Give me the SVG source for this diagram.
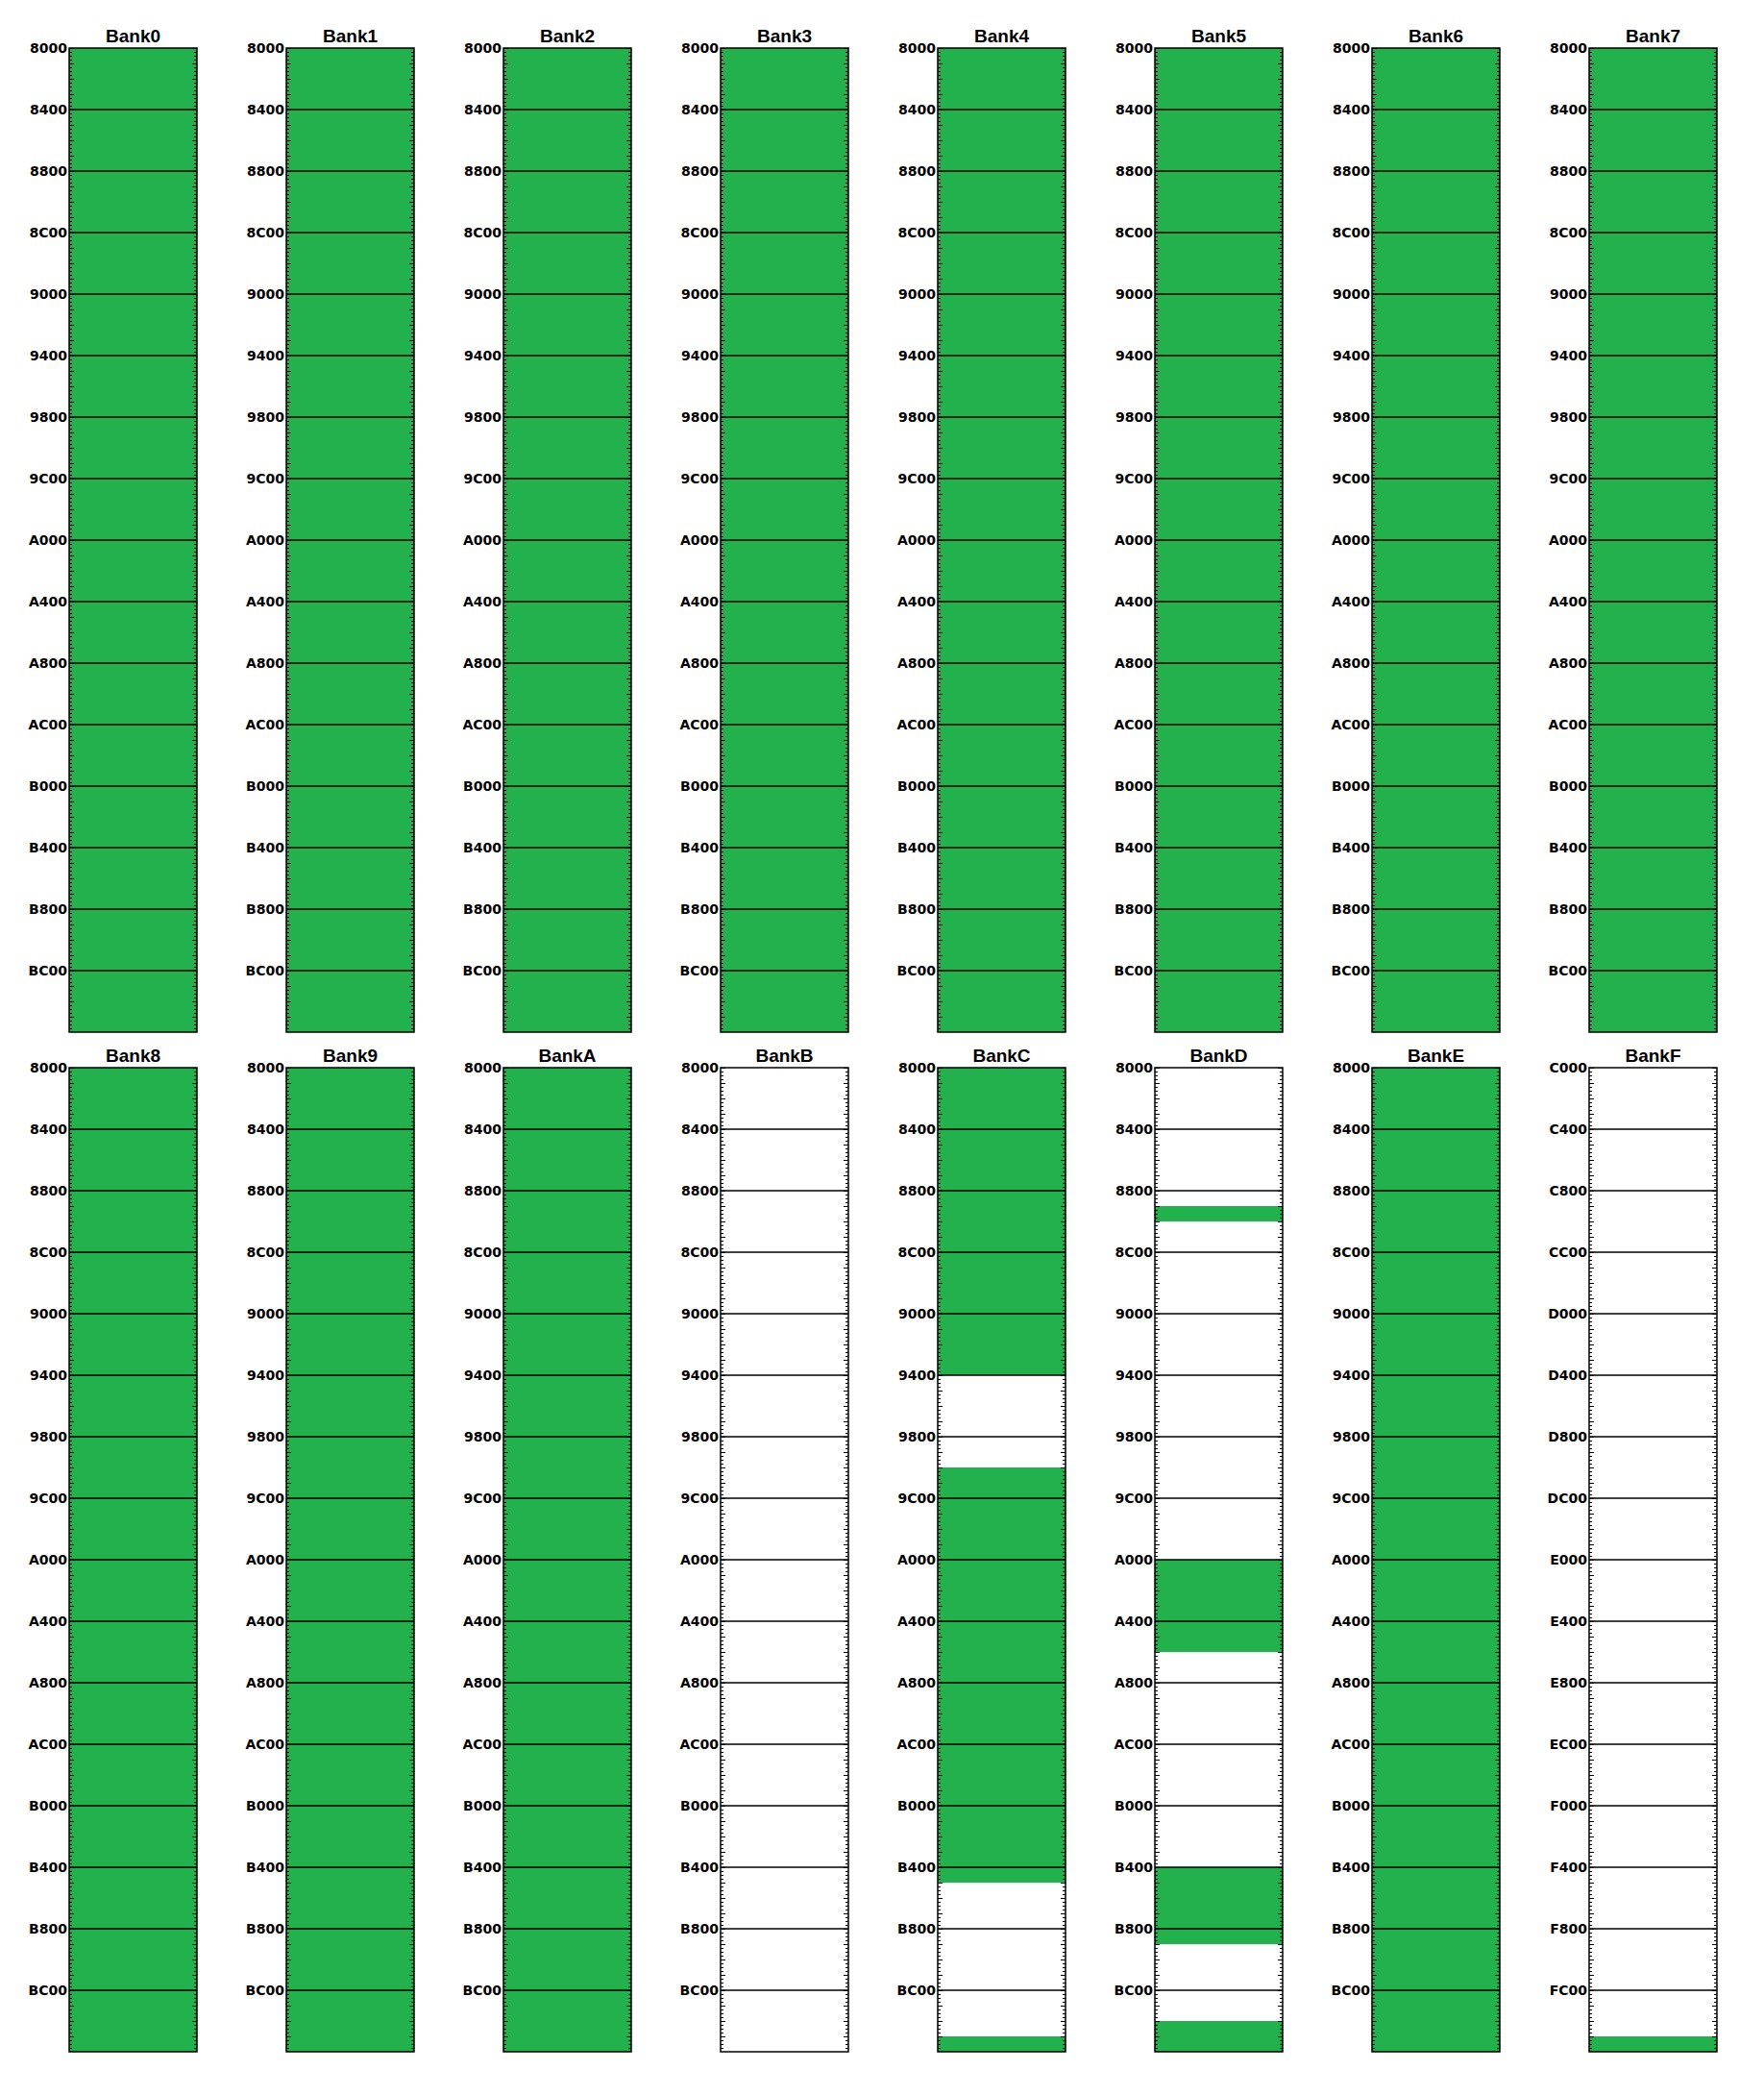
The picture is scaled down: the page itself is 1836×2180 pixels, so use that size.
<svg xmlns="http://www.w3.org/2000/svg" xmlns:xlink="http://www.w3.org/1999/xlink" width="1836" height="2180" viewBox="0 0 1836 2180">
<style>
.lbl{font-family:"DejaVu Sans",sans-serif;font-weight:bold;font-size:14px;text-anchor:end;fill:#000}
.ttl{font-family:"Liberation Sans",Arial,sans-serif;font-weight:bold;font-size:19px;text-anchor:middle;fill:#000}
.g{fill:#22B14C}
.w{fill:#fff}
.bd{fill:none;stroke:#000;stroke-width:1.5}
.gr{fill:none;stroke:#000;stroke-width:1.3}
</style>
<defs>
<pattern id="tk" width="133" height="16" patternUnits="userSpaceOnUse">
<rect x="0" y="0" width="5" height="1" fill="#000"/>
<rect x="0" y="4" width="3" height="1" fill="#000"/>
<rect x="0" y="8" width="3" height="1" fill="#000"/>
<rect x="0" y="12" width="3" height="1" fill="#000"/>
<rect x="128" y="0" width="5" height="1" fill="#000"/>
<rect x="130" y="4" width="3" height="1" fill="#000"/>
<rect x="130" y="8" width="3" height="1" fill="#000"/>
<rect x="130" y="12" width="3" height="1" fill="#000"/>
</pattern>
<path id="grid" class="gr" d="M0 64H133M0 128H133M0 192H133M0 256H133M0 320H133M0 384H133M0 448H133M0 512H133M0 576H133M0 640H133M0 704H133M0 768H133M0 832H133M0 896H133M0 960H133"/>
</defs>
<rect width="1836" height="2180" fill="#fff"/>

<g id="bank0" transform="translate(72,50)">
<rect class="g" width="133" height="1024"/>
<rect width="133" height="1024" fill="url(#tk)"/>
<use href="#grid" xlink:href="#grid"/>
<rect class="bd" width="133" height="1024"/>
<text class="ttl" x="66.5" y="-6">Bank0</text>
<text class="lbl" x="-2" y="5">8000</text><text class="lbl" x="-2" y="69">8400</text><text class="lbl" x="-2" y="133">8800</text><text class="lbl" x="-2" y="197">8C00</text><text class="lbl" x="-2" y="261">9000</text><text class="lbl" x="-2" y="325">9400</text><text class="lbl" x="-2" y="389">9800</text><text class="lbl" x="-2" y="453">9C00</text><text class="lbl" x="-2" y="517">A000</text><text class="lbl" x="-2" y="581">A400</text><text class="lbl" x="-2" y="645">A800</text><text class="lbl" x="-2" y="709">AC00</text><text class="lbl" x="-2" y="773">B000</text><text class="lbl" x="-2" y="837">B400</text><text class="lbl" x="-2" y="901">B800</text><text class="lbl" x="-2" y="965">BC00</text>
</g>

<g id="bank1" transform="translate(298,50)">
<rect class="g" width="133" height="1024"/>
<rect width="133" height="1024" fill="url(#tk)"/>
<use href="#grid" xlink:href="#grid"/>
<rect class="bd" width="133" height="1024"/>
<text class="ttl" x="66.5" y="-6">Bank1</text>
<text class="lbl" x="-2" y="5">8000</text><text class="lbl" x="-2" y="69">8400</text><text class="lbl" x="-2" y="133">8800</text><text class="lbl" x="-2" y="197">8C00</text><text class="lbl" x="-2" y="261">9000</text><text class="lbl" x="-2" y="325">9400</text><text class="lbl" x="-2" y="389">9800</text><text class="lbl" x="-2" y="453">9C00</text><text class="lbl" x="-2" y="517">A000</text><text class="lbl" x="-2" y="581">A400</text><text class="lbl" x="-2" y="645">A800</text><text class="lbl" x="-2" y="709">AC00</text><text class="lbl" x="-2" y="773">B000</text><text class="lbl" x="-2" y="837">B400</text><text class="lbl" x="-2" y="901">B800</text><text class="lbl" x="-2" y="965">BC00</text>
</g>

<g id="bank2" transform="translate(524,50)">
<rect class="g" width="133" height="1024"/>
<rect width="133" height="1024" fill="url(#tk)"/>
<use href="#grid" xlink:href="#grid"/>
<rect class="bd" width="133" height="1024"/>
<text class="ttl" x="66.5" y="-6">Bank2</text>
<text class="lbl" x="-2" y="5">8000</text><text class="lbl" x="-2" y="69">8400</text><text class="lbl" x="-2" y="133">8800</text><text class="lbl" x="-2" y="197">8C00</text><text class="lbl" x="-2" y="261">9000</text><text class="lbl" x="-2" y="325">9400</text><text class="lbl" x="-2" y="389">9800</text><text class="lbl" x="-2" y="453">9C00</text><text class="lbl" x="-2" y="517">A000</text><text class="lbl" x="-2" y="581">A400</text><text class="lbl" x="-2" y="645">A800</text><text class="lbl" x="-2" y="709">AC00</text><text class="lbl" x="-2" y="773">B000</text><text class="lbl" x="-2" y="837">B400</text><text class="lbl" x="-2" y="901">B800</text><text class="lbl" x="-2" y="965">BC00</text>
</g>

<g id="bank3" transform="translate(750,50)">
<rect class="g" width="133" height="1024"/>
<rect width="133" height="1024" fill="url(#tk)"/>
<use href="#grid" xlink:href="#grid"/>
<rect class="bd" width="133" height="1024"/>
<text class="ttl" x="66.5" y="-6">Bank3</text>
<text class="lbl" x="-2" y="5">8000</text><text class="lbl" x="-2" y="69">8400</text><text class="lbl" x="-2" y="133">8800</text><text class="lbl" x="-2" y="197">8C00</text><text class="lbl" x="-2" y="261">9000</text><text class="lbl" x="-2" y="325">9400</text><text class="lbl" x="-2" y="389">9800</text><text class="lbl" x="-2" y="453">9C00</text><text class="lbl" x="-2" y="517">A000</text><text class="lbl" x="-2" y="581">A400</text><text class="lbl" x="-2" y="645">A800</text><text class="lbl" x="-2" y="709">AC00</text><text class="lbl" x="-2" y="773">B000</text><text class="lbl" x="-2" y="837">B400</text><text class="lbl" x="-2" y="901">B800</text><text class="lbl" x="-2" y="965">BC00</text>
</g>

<g id="bank4" transform="translate(976,50)">
<rect class="g" width="133" height="1024"/>
<rect width="133" height="1024" fill="url(#tk)"/>
<use href="#grid" xlink:href="#grid"/>
<rect class="bd" width="133" height="1024"/>
<text class="ttl" x="66.5" y="-6">Bank4</text>
<text class="lbl" x="-2" y="5">8000</text><text class="lbl" x="-2" y="69">8400</text><text class="lbl" x="-2" y="133">8800</text><text class="lbl" x="-2" y="197">8C00</text><text class="lbl" x="-2" y="261">9000</text><text class="lbl" x="-2" y="325">9400</text><text class="lbl" x="-2" y="389">9800</text><text class="lbl" x="-2" y="453">9C00</text><text class="lbl" x="-2" y="517">A000</text><text class="lbl" x="-2" y="581">A400</text><text class="lbl" x="-2" y="645">A800</text><text class="lbl" x="-2" y="709">AC00</text><text class="lbl" x="-2" y="773">B000</text><text class="lbl" x="-2" y="837">B400</text><text class="lbl" x="-2" y="901">B800</text><text class="lbl" x="-2" y="965">BC00</text>
</g>

<g id="bank5" transform="translate(1202,50)">
<rect class="g" width="133" height="1024"/>
<rect width="133" height="1024" fill="url(#tk)"/>
<use href="#grid" xlink:href="#grid"/>
<rect class="bd" width="133" height="1024"/>
<text class="ttl" x="66.5" y="-6">Bank5</text>
<text class="lbl" x="-2" y="5">8000</text><text class="lbl" x="-2" y="69">8400</text><text class="lbl" x="-2" y="133">8800</text><text class="lbl" x="-2" y="197">8C00</text><text class="lbl" x="-2" y="261">9000</text><text class="lbl" x="-2" y="325">9400</text><text class="lbl" x="-2" y="389">9800</text><text class="lbl" x="-2" y="453">9C00</text><text class="lbl" x="-2" y="517">A000</text><text class="lbl" x="-2" y="581">A400</text><text class="lbl" x="-2" y="645">A800</text><text class="lbl" x="-2" y="709">AC00</text><text class="lbl" x="-2" y="773">B000</text><text class="lbl" x="-2" y="837">B400</text><text class="lbl" x="-2" y="901">B800</text><text class="lbl" x="-2" y="965">BC00</text>
</g>

<g id="bank6" transform="translate(1428,50)">
<rect class="g" width="133" height="1024"/>
<rect width="133" height="1024" fill="url(#tk)"/>
<use href="#grid" xlink:href="#grid"/>
<rect class="bd" width="133" height="1024"/>
<text class="ttl" x="66.5" y="-6">Bank6</text>
<text class="lbl" x="-2" y="5">8000</text><text class="lbl" x="-2" y="69">8400</text><text class="lbl" x="-2" y="133">8800</text><text class="lbl" x="-2" y="197">8C00</text><text class="lbl" x="-2" y="261">9000</text><text class="lbl" x="-2" y="325">9400</text><text class="lbl" x="-2" y="389">9800</text><text class="lbl" x="-2" y="453">9C00</text><text class="lbl" x="-2" y="517">A000</text><text class="lbl" x="-2" y="581">A400</text><text class="lbl" x="-2" y="645">A800</text><text class="lbl" x="-2" y="709">AC00</text><text class="lbl" x="-2" y="773">B000</text><text class="lbl" x="-2" y="837">B400</text><text class="lbl" x="-2" y="901">B800</text><text class="lbl" x="-2" y="965">BC00</text>
</g>

<g id="bank7" transform="translate(1654,50)">
<rect class="g" width="133" height="1024"/>
<rect width="133" height="1024" fill="url(#tk)"/>
<use href="#grid" xlink:href="#grid"/>
<rect class="bd" width="133" height="1024"/>
<text class="ttl" x="66.5" y="-6">Bank7</text>
<text class="lbl" x="-2" y="5">8000</text><text class="lbl" x="-2" y="69">8400</text><text class="lbl" x="-2" y="133">8800</text><text class="lbl" x="-2" y="197">8C00</text><text class="lbl" x="-2" y="261">9000</text><text class="lbl" x="-2" y="325">9400</text><text class="lbl" x="-2" y="389">9800</text><text class="lbl" x="-2" y="453">9C00</text><text class="lbl" x="-2" y="517">A000</text><text class="lbl" x="-2" y="581">A400</text><text class="lbl" x="-2" y="645">A800</text><text class="lbl" x="-2" y="709">AC00</text><text class="lbl" x="-2" y="773">B000</text><text class="lbl" x="-2" y="837">B400</text><text class="lbl" x="-2" y="901">B800</text><text class="lbl" x="-2" y="965">BC00</text>
</g>

<g id="bank8" transform="translate(72,1111)">
<rect class="g" width="133" height="1024"/>
<rect width="133" height="1024" fill="url(#tk)"/>
<use href="#grid" xlink:href="#grid"/>
<rect class="bd" width="133" height="1024"/>
<text class="ttl" x="66.5" y="-6">Bank8</text>
<text class="lbl" x="-2" y="5">8000</text><text class="lbl" x="-2" y="69">8400</text><text class="lbl" x="-2" y="133">8800</text><text class="lbl" x="-2" y="197">8C00</text><text class="lbl" x="-2" y="261">9000</text><text class="lbl" x="-2" y="325">9400</text><text class="lbl" x="-2" y="389">9800</text><text class="lbl" x="-2" y="453">9C00</text><text class="lbl" x="-2" y="517">A000</text><text class="lbl" x="-2" y="581">A400</text><text class="lbl" x="-2" y="645">A800</text><text class="lbl" x="-2" y="709">AC00</text><text class="lbl" x="-2" y="773">B000</text><text class="lbl" x="-2" y="837">B400</text><text class="lbl" x="-2" y="901">B800</text><text class="lbl" x="-2" y="965">BC00</text>
</g>

<g id="bank9" transform="translate(298,1111)">
<rect class="g" width="133" height="1024"/>
<rect width="133" height="1024" fill="url(#tk)"/>
<use href="#grid" xlink:href="#grid"/>
<rect class="bd" width="133" height="1024"/>
<text class="ttl" x="66.5" y="-6">Bank9</text>
<text class="lbl" x="-2" y="5">8000</text><text class="lbl" x="-2" y="69">8400</text><text class="lbl" x="-2" y="133">8800</text><text class="lbl" x="-2" y="197">8C00</text><text class="lbl" x="-2" y="261">9000</text><text class="lbl" x="-2" y="325">9400</text><text class="lbl" x="-2" y="389">9800</text><text class="lbl" x="-2" y="453">9C00</text><text class="lbl" x="-2" y="517">A000</text><text class="lbl" x="-2" y="581">A400</text><text class="lbl" x="-2" y="645">A800</text><text class="lbl" x="-2" y="709">AC00</text><text class="lbl" x="-2" y="773">B000</text><text class="lbl" x="-2" y="837">B400</text><text class="lbl" x="-2" y="901">B800</text><text class="lbl" x="-2" y="965">BC00</text>
</g>

<g id="bankA" transform="translate(524,1111)">
<rect class="g" width="133" height="1024"/>
<rect width="133" height="1024" fill="url(#tk)"/>
<use href="#grid" xlink:href="#grid"/>
<rect class="bd" width="133" height="1024"/>
<text class="ttl" x="66.5" y="-6">BankA</text>
<text class="lbl" x="-2" y="5">8000</text><text class="lbl" x="-2" y="69">8400</text><text class="lbl" x="-2" y="133">8800</text><text class="lbl" x="-2" y="197">8C00</text><text class="lbl" x="-2" y="261">9000</text><text class="lbl" x="-2" y="325">9400</text><text class="lbl" x="-2" y="389">9800</text><text class="lbl" x="-2" y="453">9C00</text><text class="lbl" x="-2" y="517">A000</text><text class="lbl" x="-2" y="581">A400</text><text class="lbl" x="-2" y="645">A800</text><text class="lbl" x="-2" y="709">AC00</text><text class="lbl" x="-2" y="773">B000</text><text class="lbl" x="-2" y="837">B400</text><text class="lbl" x="-2" y="901">B800</text><text class="lbl" x="-2" y="965">BC00</text>
</g>

<g id="bankB" transform="translate(750,1111)">
<rect class="w" width="133" height="1024"/>
<rect width="133" height="1024" fill="url(#tk)"/>
<use href="#grid" xlink:href="#grid"/>
<rect class="bd" width="133" height="1024"/>
<text class="ttl" x="66.5" y="-6">BankB</text>
<text class="lbl" x="-2" y="5">8000</text><text class="lbl" x="-2" y="69">8400</text><text class="lbl" x="-2" y="133">8800</text><text class="lbl" x="-2" y="197">8C00</text><text class="lbl" x="-2" y="261">9000</text><text class="lbl" x="-2" y="325">9400</text><text class="lbl" x="-2" y="389">9800</text><text class="lbl" x="-2" y="453">9C00</text><text class="lbl" x="-2" y="517">A000</text><text class="lbl" x="-2" y="581">A400</text><text class="lbl" x="-2" y="645">A800</text><text class="lbl" x="-2" y="709">AC00</text><text class="lbl" x="-2" y="773">B000</text><text class="lbl" x="-2" y="837">B400</text><text class="lbl" x="-2" y="901">B800</text><text class="lbl" x="-2" y="965">BC00</text>
</g>

<g id="bankC" transform="translate(976,1111)">
<rect class="w" width="133" height="1024"/>
<rect class="g" y="0" width="133" height="320"/>
<rect class="g" y="416" width="133" height="432"/>
<rect class="g" y="1008" width="133" height="16"/>
<rect width="133" height="1024" fill="url(#tk)"/>
<use href="#grid" xlink:href="#grid"/>
<rect class="bd" width="133" height="1024"/>
<text class="ttl" x="66.5" y="-6">BankC</text>
<text class="lbl" x="-2" y="5">8000</text><text class="lbl" x="-2" y="69">8400</text><text class="lbl" x="-2" y="133">8800</text><text class="lbl" x="-2" y="197">8C00</text><text class="lbl" x="-2" y="261">9000</text><text class="lbl" x="-2" y="325">9400</text><text class="lbl" x="-2" y="389">9800</text><text class="lbl" x="-2" y="453">9C00</text><text class="lbl" x="-2" y="517">A000</text><text class="lbl" x="-2" y="581">A400</text><text class="lbl" x="-2" y="645">A800</text><text class="lbl" x="-2" y="709">AC00</text><text class="lbl" x="-2" y="773">B000</text><text class="lbl" x="-2" y="837">B400</text><text class="lbl" x="-2" y="901">B800</text><text class="lbl" x="-2" y="965">BC00</text>
</g>

<g id="bankD" transform="translate(1202,1111)">
<rect class="w" width="133" height="1024"/>
<rect class="g" y="144" width="133" height="16"/>
<rect class="g" y="512" width="133" height="96"/>
<rect class="g" y="832" width="133" height="80"/>
<rect class="g" y="992" width="133" height="32"/>
<rect width="133" height="1024" fill="url(#tk)"/>
<use href="#grid" xlink:href="#grid"/>
<rect class="bd" width="133" height="1024"/>
<text class="ttl" x="66.5" y="-6">BankD</text>
<text class="lbl" x="-2" y="5">8000</text><text class="lbl" x="-2" y="69">8400</text><text class="lbl" x="-2" y="133">8800</text><text class="lbl" x="-2" y="197">8C00</text><text class="lbl" x="-2" y="261">9000</text><text class="lbl" x="-2" y="325">9400</text><text class="lbl" x="-2" y="389">9800</text><text class="lbl" x="-2" y="453">9C00</text><text class="lbl" x="-2" y="517">A000</text><text class="lbl" x="-2" y="581">A400</text><text class="lbl" x="-2" y="645">A800</text><text class="lbl" x="-2" y="709">AC00</text><text class="lbl" x="-2" y="773">B000</text><text class="lbl" x="-2" y="837">B400</text><text class="lbl" x="-2" y="901">B800</text><text class="lbl" x="-2" y="965">BC00</text>
</g>

<g id="bankE" transform="translate(1428,1111)">
<rect class="g" width="133" height="1024"/>
<rect width="133" height="1024" fill="url(#tk)"/>
<use href="#grid" xlink:href="#grid"/>
<rect class="bd" width="133" height="1024"/>
<text class="ttl" x="66.5" y="-6">BankE</text>
<text class="lbl" x="-2" y="5">8000</text><text class="lbl" x="-2" y="69">8400</text><text class="lbl" x="-2" y="133">8800</text><text class="lbl" x="-2" y="197">8C00</text><text class="lbl" x="-2" y="261">9000</text><text class="lbl" x="-2" y="325">9400</text><text class="lbl" x="-2" y="389">9800</text><text class="lbl" x="-2" y="453">9C00</text><text class="lbl" x="-2" y="517">A000</text><text class="lbl" x="-2" y="581">A400</text><text class="lbl" x="-2" y="645">A800</text><text class="lbl" x="-2" y="709">AC00</text><text class="lbl" x="-2" y="773">B000</text><text class="lbl" x="-2" y="837">B400</text><text class="lbl" x="-2" y="901">B800</text><text class="lbl" x="-2" y="965">BC00</text>
</g>

<g id="bankF" transform="translate(1654,1111)">
<rect class="w" width="133" height="1024"/>
<rect class="g" y="1008" width="133" height="16"/>
<rect width="133" height="1024" fill="url(#tk)"/>
<use href="#grid" xlink:href="#grid"/>
<rect class="bd" width="133" height="1024"/>
<text class="ttl" x="66.5" y="-6">BankF</text>
<text class="lbl" x="-2" y="5">C000</text><text class="lbl" x="-2" y="69">C400</text><text class="lbl" x="-2" y="133">C800</text><text class="lbl" x="-2" y="197">CC00</text><text class="lbl" x="-2" y="261">D000</text><text class="lbl" x="-2" y="325">D400</text><text class="lbl" x="-2" y="389">D800</text><text class="lbl" x="-2" y="453">DC00</text><text class="lbl" x="-2" y="517">E000</text><text class="lbl" x="-2" y="581">E400</text><text class="lbl" x="-2" y="645">E800</text><text class="lbl" x="-2" y="709">EC00</text><text class="lbl" x="-2" y="773">F000</text><text class="lbl" x="-2" y="837">F400</text><text class="lbl" x="-2" y="901">F800</text><text class="lbl" x="-2" y="965">FC00</text>
</g>
</svg>
